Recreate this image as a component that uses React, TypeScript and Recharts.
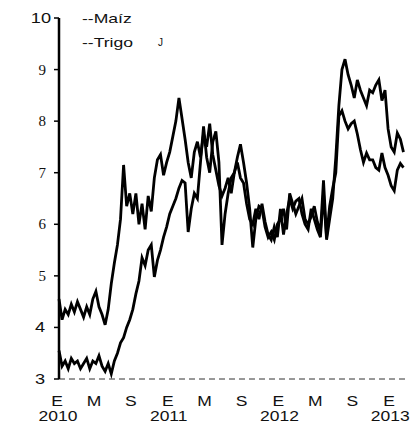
import { LineChart, Line, XAxis, YAxis, Legend } from "recharts";

document.body.style.margin = "0";

const SANS = "'Liberation Sans', Arial, sans-serif";
const SERIF = "'Liberation Serif', 'Times New Roman', serif";

const MESES = ["E", "M", "S"];
const ANIOS = ["2010", "2011", "2012", "2013"];
const TICKS_X = [0, 4, 8, 12, 16, 20, 24, 28, 32, 36];
const TICKS_Y = [3, 4, 5, 6, 7, 8, 9, 10];
const SERIES = ["Maíz", "Trigo"];

// tres lecturas por mes desde enero de 2010
const trigo = [
  4.55, 4.15, 4.35, 4.25, 4.45, 4.3, 4.5, 4.35, 4.2, 4.4, 4.25, 4.55,
  4.7, 4.4, 4.25, 4.05, 4.35, 4.85, 5.25, 5.6, 6.1, 7.15, 6.35, 6.6,
  6.2, 6.6, 6.0, 6.4, 5.9, 6.55, 6.25, 6.9, 7.25, 7.35, 6.95, 7.2,
  7.4, 7.7, 8.0, 8.45, 8.05, 7.65, 7.2, 6.9, 7.4, 7.6, 7.3, 7.75,
  7.5, 7.95, 7.35, 7.05, 6.75, 6.55, 6.7, 6.9, 6.6, 7.0, 7.2, 6.9,
  6.8, 6.4, 6.1, 6.0, 6.3, 6.1, 6.4, 6.05, 5.8, 5.7, 5.95, 5.75,
  6.3, 5.8, 6.2, 6.5, 6.3, 6.45, 6.5, 6.2, 6.0, 5.9, 6.3, 6.1,
  5.9, 5.75, 6.6, 5.7, 6.1, 6.5, 7.3, 8.3, 9.0, 9.2, 8.9, 8.7,
  8.45, 8.8, 8.6, 8.45, 8.3, 8.6, 8.55, 8.7, 8.8, 8.4, 8.6, 7.85,
  7.5, 7.4, 7.77, 7.65, 7.4,
];

const maiz = [
  3.55, 3.25, 3.35, 3.2, 3.4, 3.3, 3.35, 3.2, 3.3, 3.4, 3.2, 3.35,
  3.3, 3.45, 3.25, 3.15, 3.3, 3.1, 3.35, 3.5, 3.7, 3.8, 4.0, 4.15,
  4.35, 4.65, 4.9, 5.35, 5.2, 5.5, 5.6, 4.98, 5.3, 5.5, 5.75, 5.95,
  6.2, 6.35, 6.5, 6.7, 6.85, 6.8, 5.85, 6.3, 6.6, 6.5, 7.2, 7.9,
  7.3, 7.0, 7.6, 7.8, 7.2, 5.6, 6.2, 6.6, 6.9, 7.0, 7.3, 7.55,
  7.2, 6.8, 6.3, 5.55, 6.1, 6.35, 6.3, 5.95, 5.75, 5.85, 5.7, 6.0,
  6.1, 6.3, 5.9, 6.6, 6.4, 6.2, 6.35, 6.5, 6.1, 6.0, 6.15, 6.35,
  6.05, 5.85, 6.85, 5.75, 6.35, 6.7, 7.0, 8.1, 8.2, 8.0, 7.85, 7.95,
  8.0, 7.75, 7.45, 7.2, 7.38, 7.25, 7.25, 7.1, 7.05, 7.38, 7.1, 6.95,
  6.75, 6.65, 7.05, 7.18, 7.1,
];

const data = trigo.map((v, i) => ({ t: i / 3, trigo: v, maiz: maiz[i] }));

function TickY({ y, payload }: any) {
  const v = payload.value;
  const serif = v >= 5 && v <= 9;
  if (serif) {
    return (
      <text x={46} y={y + 5} textAnchor="end" fontSize={15} fontFamily={SERIF} fill="#111">
        {v}
      </text>
    );
  }
  return (
    <text transform={`translate(${v === 10 ? 51 : 45},${y + 5}) scale(1.3,1)`} textAnchor="end" fontSize={14} fontFamily={SANS} fill="#111">
      {v}
    </text>
  );
}

function TickX({ x, payload }: any) {
  const i = TICKS_X.indexOf(payload.value);
  const anio = i % 3 === 0 ? ANIOS[i / 3] : null;
  return (
    <g>
      <text transform={`translate(${x - 2},406) scale(1.25,1)`} textAnchor="middle" fontSize={14} fontFamily={SANS} fill="#111">
        {MESES[i % 3]}
      </text>
      {anio && (
        <text transform={`translate(${x - 1},421) scale(1.25,1)`} textAnchor="middle" fontSize={14} fontFamily={SANS} fill="#111">
          {anio}
        </text>
      )}
    </g>
  );
}

const renderLegend = () => (
  <div style={{ position: "relative", fontFamily: SANS, fontSize: 13, lineHeight: "24px", color: "#111" }}>
    {SERIES.map((s) => (
      <div key={s} style={{ transform: "scale(1.35,1)", transformOrigin: "left", whiteSpace: "nowrap" }}>
        --{s}
      </div>
    ))}
    <div style={{ position: "absolute", left: 76, top: 30, fontSize: 10, lineHeight: "12px" }}>J</div>
  </div>
);

export default function App() {
  return (
    <LineChart width={414} height={426} data={data} margin={{ top: 18, right: 9, left: 0, bottom: 0 }}>
      <XAxis
        dataKey="t"
        type="number"
        domain={[0, 37.5]}
        ticks={TICKS_X}
        tick={<TickX />}
        tickLine={false}
        height={47}
        axisLine={{ stroke: "#333", strokeDasharray: "6 4" }}
        interval={0}
      />
      <YAxis
        type="number"
        domain={[3, 10]}
        ticks={TICKS_Y}
        tick={<TickY />}
        width={59}
        tickSize={5}
        tickLine={{ stroke: "#000", strokeWidth: 1.5 }}
        axisLine={{ stroke: "#000", strokeWidth: 2.5 }}
        interval={0}
      />
      <Legend
        layout="vertical"
        align="center"
        verticalAlign="middle"
        wrapperStyle={{ top: 7, left: 82, width: "auto" }}
        content={renderLegend}
      />
      <Line dataKey="trigo" name="Trigo" type="linear" stroke="#000" strokeWidth={2.8} dot={false} isAnimationActive={false} />
      <Line dataKey="maiz" name="Maíz" type="linear" stroke="#000" strokeWidth={2.8} dot={false} isAnimationActive={false} />
    </LineChart>
  );
}
